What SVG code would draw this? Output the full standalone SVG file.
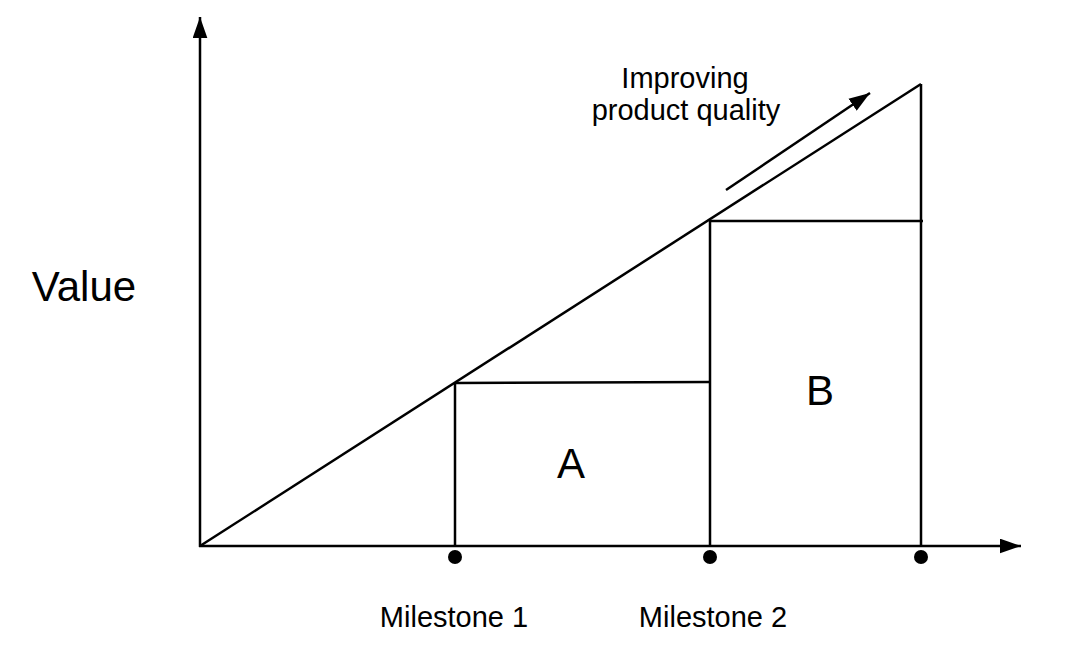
<svg xmlns="http://www.w3.org/2000/svg" width="1086" height="660" viewBox="0 0 1086 660">
<style>
.ln{stroke:#000;stroke-width:2.5;fill:none;stroke-linecap:butt}
.t{font-family:"Liberation Sans",Arial,sans-serif;fill:#000;text-anchor:middle}
</style>
<defs>
<marker id="ah" viewBox="0 0 20 14" refX="20" refY="7" markerUnits="userSpaceOnUse" markerWidth="21" markerHeight="15" orient="auto">
<path d="M0,0 L20,7 L0,14 Z" fill="#000"/>
</marker>
</defs>
<rect width="1086" height="660" fill="#fff"/>
<g id="connectors">
<line class="ln" x1="200" y1="547" x2="200" y2="17" marker-end="url(#ah)"/>
<line class="ln" x1="199" y1="546" x2="1021" y2="546" marker-end="url(#ah)"/>
<line class="ln" x1="200" y1="546" x2="921" y2="84"/>
<line class="ln" x1="921" y1="84" x2="921" y2="546"/>
<line class="ln" x1="710" y1="221" x2="923" y2="221"/>
<line class="ln" x1="710" y1="220" x2="710" y2="546"/>
<line class="ln" x1="455" y1="383" x2="711" y2="382"/>
<line class="ln" x1="455" y1="383" x2="455" y2="546"/>
<line class="ln" x1="726" y1="190" x2="870" y2="93" marker-end="url(#ah)"/>
</g>
<g id="milestone-dots">
<circle cx="455" cy="557" r="7"/>
<circle cx="710" cy="557" r="7"/>
<circle cx="921" cy="557" r="7"/>
</g>
<g id="value-label"><text class="t" x="84" y="301" font-size="42">Value</text></g>
<g id="area-a"><text class="t" x="571" y="478" font-size="42">A</text></g>
<g id="area-b"><text class="t" x="820" y="405" font-size="42">B</text></g>
<g id="quality-label">
<text class="t" x="685" y="88" font-size="29">Improving</text>
<text class="t" x="686" y="120" font-size="29">product quality</text>
</g>
<g id="milestone-1"><text class="t" x="454" y="627" font-size="29">Milestone 1</text></g>
<g id="milestone-2"><text class="t" x="713" y="627" font-size="29">Milestone 2</text></g>
</svg>
